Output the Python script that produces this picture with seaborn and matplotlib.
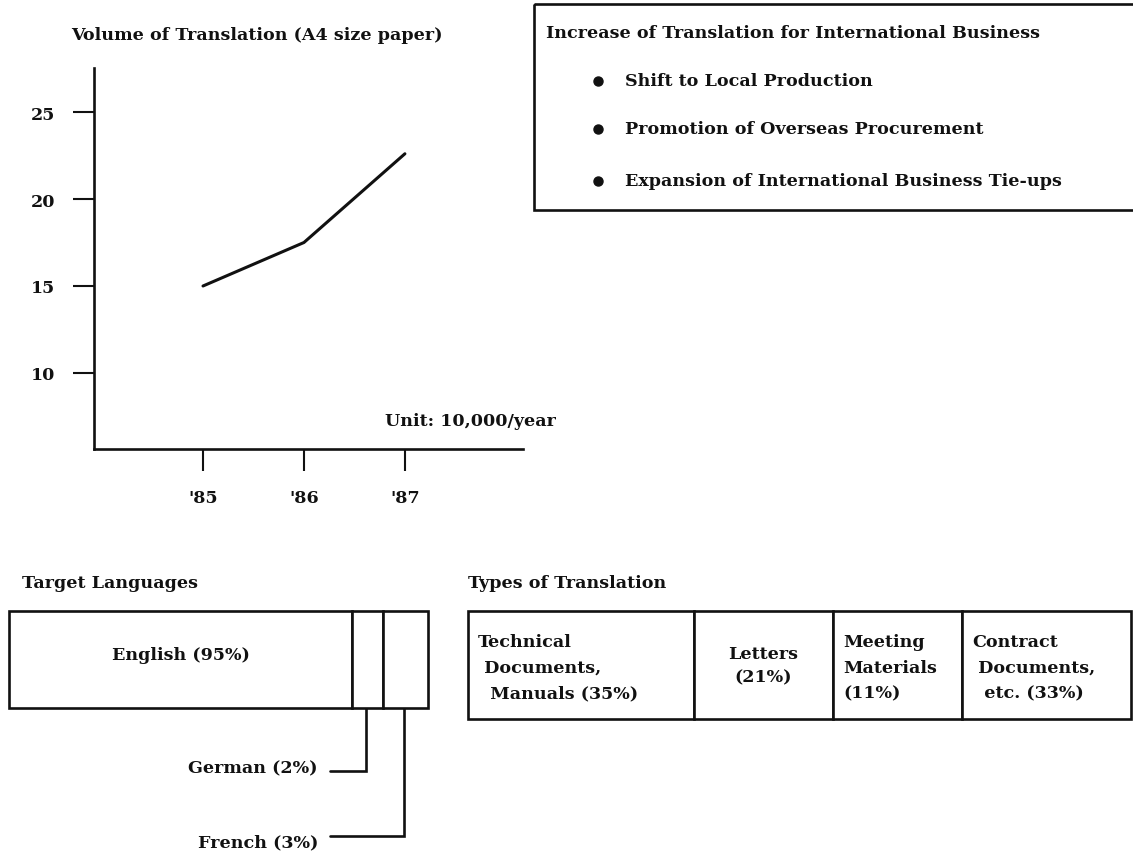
import matplotlib
matplotlib.use("Agg")
import matplotlib.pyplot as plt
from matplotlib.patches import Rectangle
import seaborn as sns
import pandas as pd
import numpy as np

# ---------------- data ----------------
years = [1985, 1986, 1987]
year_labels = ["'85", "'86", "'87"]
volume = [15.0, 17.5, 22.6]          # 10,000 A4 pages / year
y_ticks = [10, 15, 20, 25]

increase_title = "Increase of Translation for International Business"
increase_items = ["Shift to Local Production",
                  "Promotion of Overseas Procurement",
                  "Expansion of International Business Tie-ups"]

languages = ["English", "German", "French"]
language_share = [95, 2, 3]

types = ["Technical\n Documents,\n  Manuals (35%)", "Letters\n(21%)",
         "Meeting\nMaterials\n(11%)", "Contract\n Documents,\n  etc. (33%)"]
type_share = [35, 21, 11, 33]

# ---------------- layout (pixels, drawn widths) ----------------
W, H = 1133, 854
lang_box_w = [343, 31, 45]            # drawn widths of the language cells
type_box_w = [226, 139, 129, 169]     # drawn widths of the type cells

sns.set_style("ticks")
FONT = ["DejaVu Serif"]
plt.rcParams["font.family"] = FONT
plt.rcParams["font.weight"] = "bold"
INK = "#111111"
FS = 12.6

fig = plt.figure(figsize=(W / 100, H / 100), dpi=100)
fig.patch.set_facecolor("white")


def px_axes(x0, y0, x1, y1, **kw):
    return fig.add_axes([x0 / W, 1 - y1 / H, (x1 - x0) / W, (y1 - y0) / H], **kw)


# overlay for free text and frames, in pixel units
ov = px_axes(0, 0, W, H, zorder=0)
ov.set_xlim(0, W)
ov.set_ylim(H, 0)
ov.axis("off")

# ---------------- line chart ----------------
ax = px_axes(94, 69, 523, 450, zorder=2)
ax.patch.set_alpha(0)
df = pd.DataFrame({"year": years, "volume": volume})
sns.lineplot(data=df, x="year", y="volume", ax=ax, color=INK, linewidth=2.2)
ax.set_xlim(1983.92, 1988.17)
ax.set_ylim(5.63, 27.53)
ax.set_xticks(years)
ax.set_xticklabels(year_labels)
ax.set_yticks(y_ticks)
ax.set_yticklabels([str(t) for t in y_ticks])
ax.set_xlabel("")
ax.set_ylabel("")
sns.despine(ax=ax)
for s in ["left", "bottom"]:
    ax.spines[s].set_linewidth(1.9)
    ax.spines[s].set_color(INK)
ax.tick_params(axis="y", length=15, width=1.5, pad=13, labelsize=FS, colors=INK)
ax.tick_params(axis="x", length=16, width=1.5, pad=13, labelsize=FS, colors=INK)
for lab in ax.get_xticklabels() + ax.get_yticklabels():
    lab.set_fontweight("bold")

ov.text(71, 36, "Volume of Translation (A4 size paper)", fontsize=FS,
        fontweight="bold", va="center", ha="left", color=INK)
ov.text(385, 422, "Unit: 10,000/year", fontsize=FS, fontweight="bold",
        va="center", ha="left", color=INK)

# ---------------- increase box ----------------
ov.add_patch(Rectangle((534, 5), 620, 206, fill=False, lw=1.9, ec=INK,
                       clip_on=False))
ov.text(546, 33, increase_title, fontsize=FS, fontweight="bold",
        va="center", ha="left", color=INK)
for yy, item in zip([82, 130, 182], increase_items):
    ov.plot([598], [yy], "o", ms=6.5, color=INK)
    ov.text(625, yy, item, fontsize=FS, fontweight="bold", va="center",
            ha="left", color=INK)

# ---------------- target languages ----------------
ov.text(22, 584, "Target Languages", fontsize=FS, fontweight="bold",
        va="center", ha="left", color=INK)
lx0, ly0, lx1, ly1 = 9, 612, 428, 709
axl = px_axes(lx0, ly0, lx1, ly1, zorder=2)
lefts = np.concatenate([[0], np.cumsum(lang_box_w)[:-1]])
axl.barh([0] * len(languages), lang_box_w, left=lefts, height=1.0,
         color="white", edgecolor=INK, linewidth=1.9, clip_on=False)
axl.set_xlim(0, sum(lang_box_w))
axl.set_ylim(-0.5, 0.5)
axl.axis("off")
axl.text(lefts[0] + lang_box_w[0] / 2, 0.05,
         f"{languages[0]} ({language_share[0]}%)", fontsize=FS,
         fontweight="bold", ha="center", va="center", color=INK)

leader_y = [772, 837]
label_y = [769, 843]
for i, (lyv, tyv) in enumerate(zip(leader_y, label_y), start=1):
    cx = lx0 + lefts[i] + lang_box_w[i] / 2 - 2
    ov.plot([cx, cx, 330], [ly1, lyv, lyv], color=INK, lw=1.9,
            solid_joinstyle="miter")
    ov.text(318, tyv, f"{languages[i]} ({language_share[i]}%)", fontsize=FS,
            fontweight="bold", ha="right", va="center", color=INK)

# ---------------- types of translation ----------------
ov.text(468, 584, "Types of Translation", fontsize=FS, fontweight="bold",
        va="center", ha="left", color=INK)
tx0, ty0, ty1 = 468, 612, 720
tx1 = tx0 + sum(type_box_w)
axt = px_axes(tx0, ty0, tx1, ty1, zorder=2)
tlefts = np.concatenate([[0], np.cumsum(type_box_w)[:-1]])
axt.barh([0] * len(types), type_box_w, left=tlefts, height=1.0,
         color="white", edgecolor=INK, linewidth=1.9, clip_on=False)
axt.set_xlim(0, sum(type_box_w))
axt.set_ylim(-0.5, 0.5)
axt.invert_yaxis()
axt.axis("off")
align = ["left", "center", "left", "left"]
for i, txt in enumerate(types):
    if align[i] == "center":
        axt.text(tlefts[i] + type_box_w[i] / 2, 0.0, txt, fontsize=FS,
                 fontweight="bold", ha="center", va="center",
                 linespacing=1.45, multialignment="center", color=INK)
    else:
        axt.text(tlefts[i] + 10, 0.02, txt, fontsize=FS, fontweight="bold",
                 ha="left", va="center", linespacing=1.65, color=INK)

fig.savefig("out.png", dpi=100, facecolor="white")
